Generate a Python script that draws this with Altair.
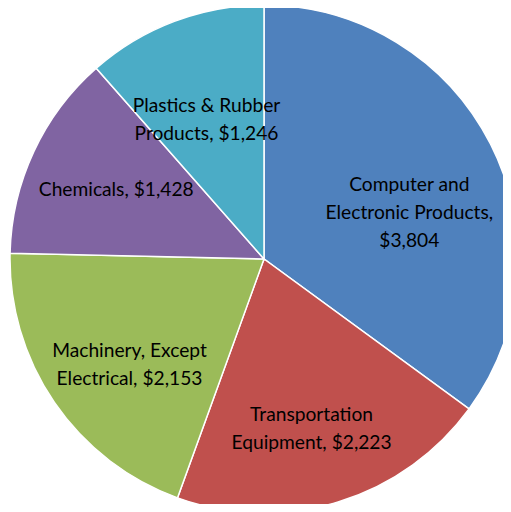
import altair as alt
import pandas as pd

categories = [
    "Computer and Electronic Products",
    "Transportation Equipment",
    "Machinery, Except Electrical",
    "Chemicals",
    "Plastics & Rubber Products",
]
values = [3804, 2223, 2153, 1428, 1246]
label_lines = [
    ["Computer and", "Electronic Products,", "$3,804"],
    ["Transportation", "Equipment, $2,223"],
    ["Machinery, Except", "Electrical, $2,153"],
    ["Chemicals, $1,428"],
    ["Plastics & Rubber", "Products, $1,246"],
]
colors = ["#4F81BD", "#C0504D", "#9BBB59", "#8064A2", "#4BACC6"]

df = pd.DataFrame({
    "category": categories,
    "value": values,
    "label": ["\n".join(l) for l in label_lines],
    "order": list(range(len(categories))),
})

base = alt.Chart(df).encode(
    theta=alt.Theta("value:Q", stack=True),
    order=alt.Order("order:Q"),
    x=alt.value(256),
    y=alt.value(251),
)

pie = base.mark_arc(outerRadius=254, stroke="white", strokeWidth=1.5).encode(
    color=alt.Color("category:N", scale=alt.Scale(domain=categories, range=colors), legend=None)
)

text = base.mark_text(
    radius=163, lineBreak="\n", font="Lato", fontSize=19.2, lineHeight=28,
    color="black", align="center", baseline="middle"
).encode(text="label:N")

chart = (pie + text).properties(
    width=495, height=496, autosize=alt.AutoSizeParams(type="none"), padding=0
).configure_view(stroke=None)

chart.save("out.html", embed_options={"renderer": "svg", "actions": False})
